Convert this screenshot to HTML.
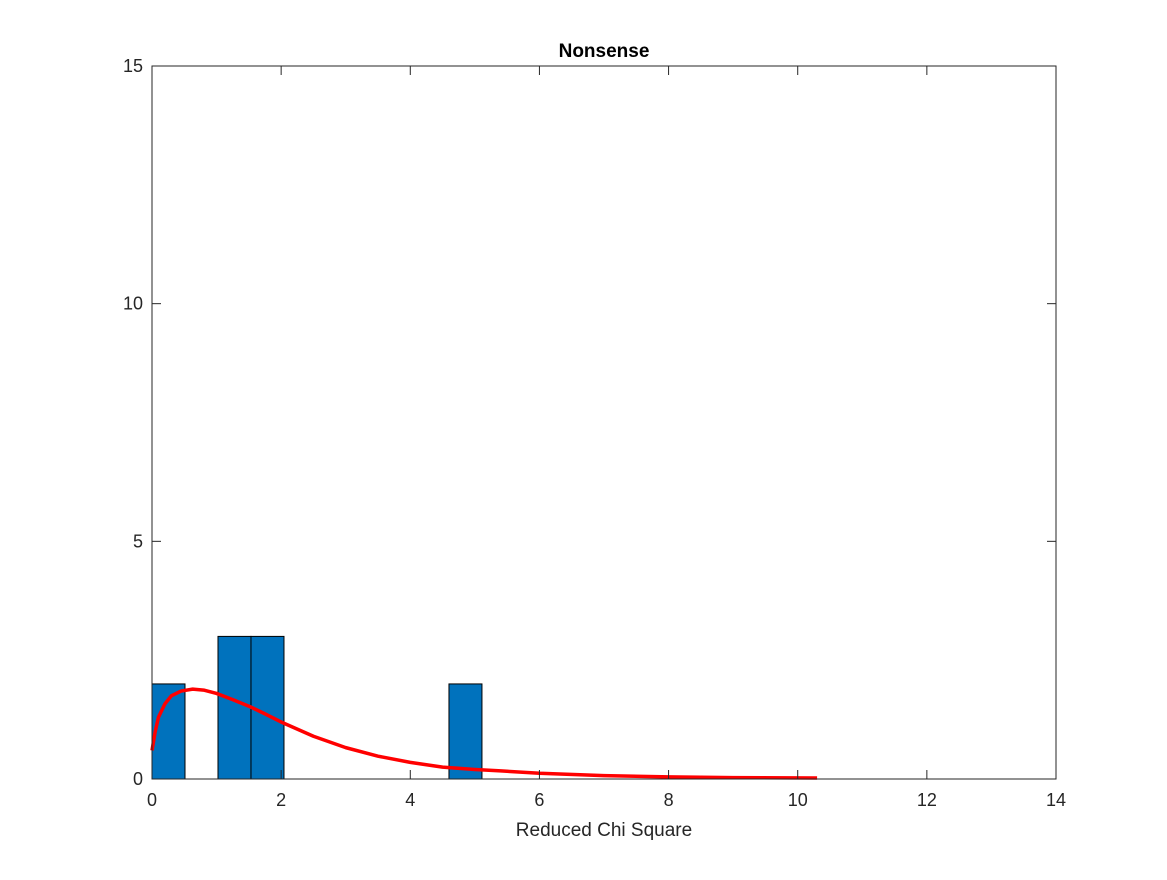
<!DOCTYPE html>
<html><head><meta charset="utf-8"><style>
body{margin:0;background:#fff;}
svg text{font-family:"Liberation Sans",Helvetica,sans-serif;}
</style></head><body>
<svg id="chart" width="1167" height="875" xmlns="http://www.w3.org/2000/svg">
<rect width="1167" height="875" fill="#fff"/>
<g id="bars"></g>
<g id="curve"></g>
<g id="axes"></g>
<text x="604" y="57" text-anchor="middle" font-size="19" font-weight="bold">Nonsense</text>
<text x="604" y="836" text-anchor="middle" font-size="19" fill="#262626">Reduced Chi Square</text>
</svg>
<script>
const binWidth = 0.511;
const binStarts = [0, 2, 3, 9];
const binCounts = [2, 3, 3, 2];
const curveX = [0, 0.05, 0.1, 0.2, 0.3, 0.45, 0.63, 0.8, 1.0, 1.25, 1.52, 1.75, 2.03, 2.5, 3.0, 3.5, 4.0, 4.5, 5.0, 5.4, 6.0, 7.0, 8.0, 9.0, 10.3];
const curveY = [0.6, 1.0, 1.3, 1.58, 1.75, 1.85, 1.89, 1.87, 1.8, 1.67, 1.52, 1.37, 1.18, 0.9, 0.66, 0.48, 0.35, 0.25, 0.2, 0.17, 0.12, 0.07, 0.045, 0.03, 0.02];
const xTicks = [0, 2, 4, 6, 8, 10, 12, 14];
const yTicks = [0, 5, 10, 15];
const L = 152, R = 1056, T = 66, B = 779, xMax = 14, yMax = 15;
const sx = v => L + v / xMax * (R - L);
const sy = v => B - v / yMax * (B - T);
const NS = "http://www.w3.org/2000/svg";
const mk = (t, a, p) => { const e = document.createElementNS(NS, t); for (const k in a) e.setAttribute(k, a[k]); p.appendChild(e); return e; };
const bars = document.getElementById('bars');
binStarts.forEach((b, i) => {
  const x0 = sx(b * binWidth), x1 = sx((b + 1) * binWidth);
  const r = mk('rect', {x: x0, y: sy(binCounts[i]), width: x1 - x0, height: sy(0) - sy(binCounts[i]), fill: '#0072BD', stroke: '#000', 'stroke-width': 1}, bars);
  
  
});
const cg = document.getElementById('curve');
const pl = mk('polyline', {points: curveX.map((x, i) => sx(x) + ',' + sy(curveY[i])).join(' '), fill: 'none', stroke: '#ff0000', 'stroke-width': 3.5, 'stroke-linejoin': 'round'}, cg);


const ax = document.getElementById('axes');
const box = mk('rect', {x: L, y: T, width: R - L, height: B - T, fill: 'none', stroke: '#262626', 'stroke-width': 1}, ax);


xTicks.forEach(v => {
  const x = sx(v);
  mk('line', {x1: x, y1: B, x2: x, y2: B - 9, stroke: '#262626'}, ax);
  mk('line', {x1: x, y1: T, x2: x, y2: T + 9, stroke: '#262626'}, ax);
  const t = mk('text', {x: x, y: B + 27, 'text-anchor': 'middle', 'font-size': 18, fill: '#262626'}, ax);
  t.textContent = v;
  
  
});
yTicks.forEach(v => {
  const y = sy(v);
  mk('line', {x1: L, y1: y, x2: L + 9, y2: y, stroke: '#262626'}, ax);
  mk('line', {x1: R, y1: y, x2: R - 9, y2: y, stroke: '#262626'}, ax);
  const t = mk('text', {x: L - 9, y: y + 6, 'text-anchor': 'end', 'font-size': 18, fill: '#262626'}, ax);
  t.textContent = v;
  
  
});
</script>
</body></html>
